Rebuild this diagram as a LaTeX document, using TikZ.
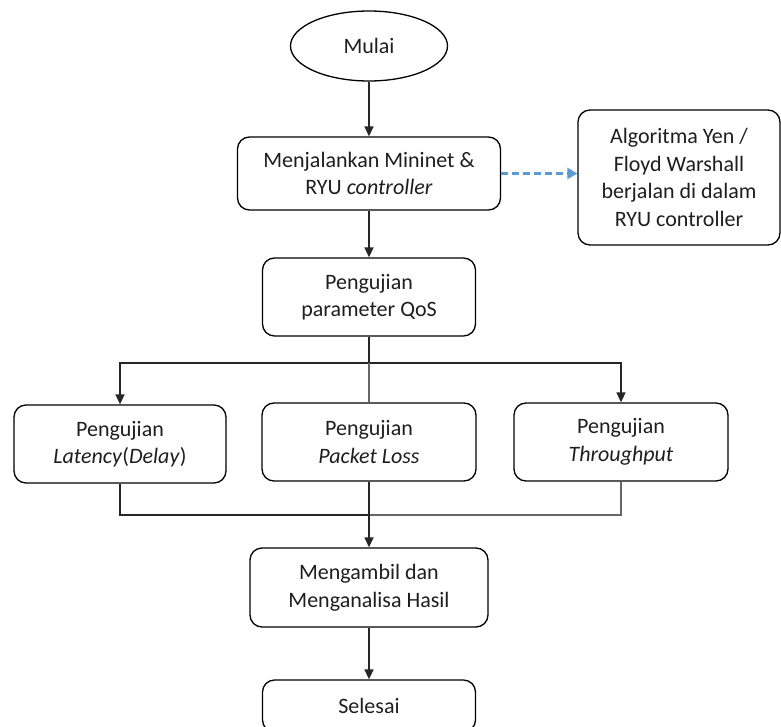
\documentclass[tikz,border=0pt]{standalone}
\usepackage{fontspec}
\setmainfont{Carlito}
\usetikzlibrary{arrows.meta,shapes.geometric}
\definecolor{txt}{HTML}{1E1E1E}
\definecolor{bluedash}{HTML}{5B9BD5}
\tikzset{
  box/.style={draw=black, line width=1.3pt, rounded corners=12pt, inner sep=0pt, align=center,
    font=\fontsize{22}{27.5}\selectfont, text=txt},
  oval/.style={draw=black, line width=1.3pt, ellipse, inner sep=0pt, align=center,
    font=\fontsize{22}{27.5}\selectfont, text=txt},
  arr/.style={line width=1.5pt, draw=black!85, -{Triangle[length=10pt,width=9pt]}},
  ln/.style={line width=1.5pt, draw=black!85},
  thin/.style={line width=1.2pt, draw=black!60},
  dash arr/.style={line width=2.4pt, draw=bluedash, dash pattern=on 7pt off 4pt, -{Triangle[length=10pt,width=11pt]}}
}
\begin{document}
\begin{tikzpicture}[x=1pt,y=-1pt]
\useasboundingbox (0,0) rectangle (781,727);
\node[oval, minimum width=157pt, minimum height=70pt] (start) at (369,46) {Mulai};
\node[box, minimum width=263pt, minimum height=73pt] (run) at (369,173.5) {Menjalankan Mininet \&\\RYU \textit{controller}};
\node[box, minimum width=202pt, minimum height=135pt] (algo) at (679,177.5) {Algoritma Yen /\\Floyd Warshall\\berjalan di dalam\\RYU controller};
\node[box, minimum width=213pt, minimum height=78pt] (qos) at (369,297) {Pengujian\\parameter QoS};
\node[box, minimum width=212pt, minimum height=78pt] (lat) at (120,444) {Pengujian\\\textit{Latency}(\textit{Delay})};
\node[box, minimum width=214pt, minimum height=78pt] (pl) at (369,442) {Pengujian\\\textit{Packet Loss}};
\node[box, minimum width=214pt, minimum height=78pt] (tp) at (621,442) {Pengujian\\\textit{Throughput}};
\node[box, minimum width=238pt, minimum height=79pt] (hasil) at (369,587.5) {Mengambil dan\\Menganalisa Hasil};
\node[box, minimum width=213pt, minimum height=52pt] (end) at (369,706) {Selesai};
\coordinate (sp) at (369,363);
\coordinate (mg) at (369,515);
\draw[arr] (start.south) -- (run.north);
\draw[dash arr] (run.east) -- (run.east -| algo.west);
\draw[arr] (run.south) -- (qos.north);
\draw[ln] (qos.south) -- (sp);
\draw[arr] (sp) -| (lat.north);
\draw[arr] (sp) -| (tp.north);
\draw[thin] (sp) -- (pl.north);
\draw[ln] (lat.south) |- (mg);
\draw[thin] (tp.south) |- (mg);
\draw[arr] (pl.south) -- (hasil.north);
\draw[arr] (hasil.south) -- (end.north);
\end{tikzpicture}
\end{document}
